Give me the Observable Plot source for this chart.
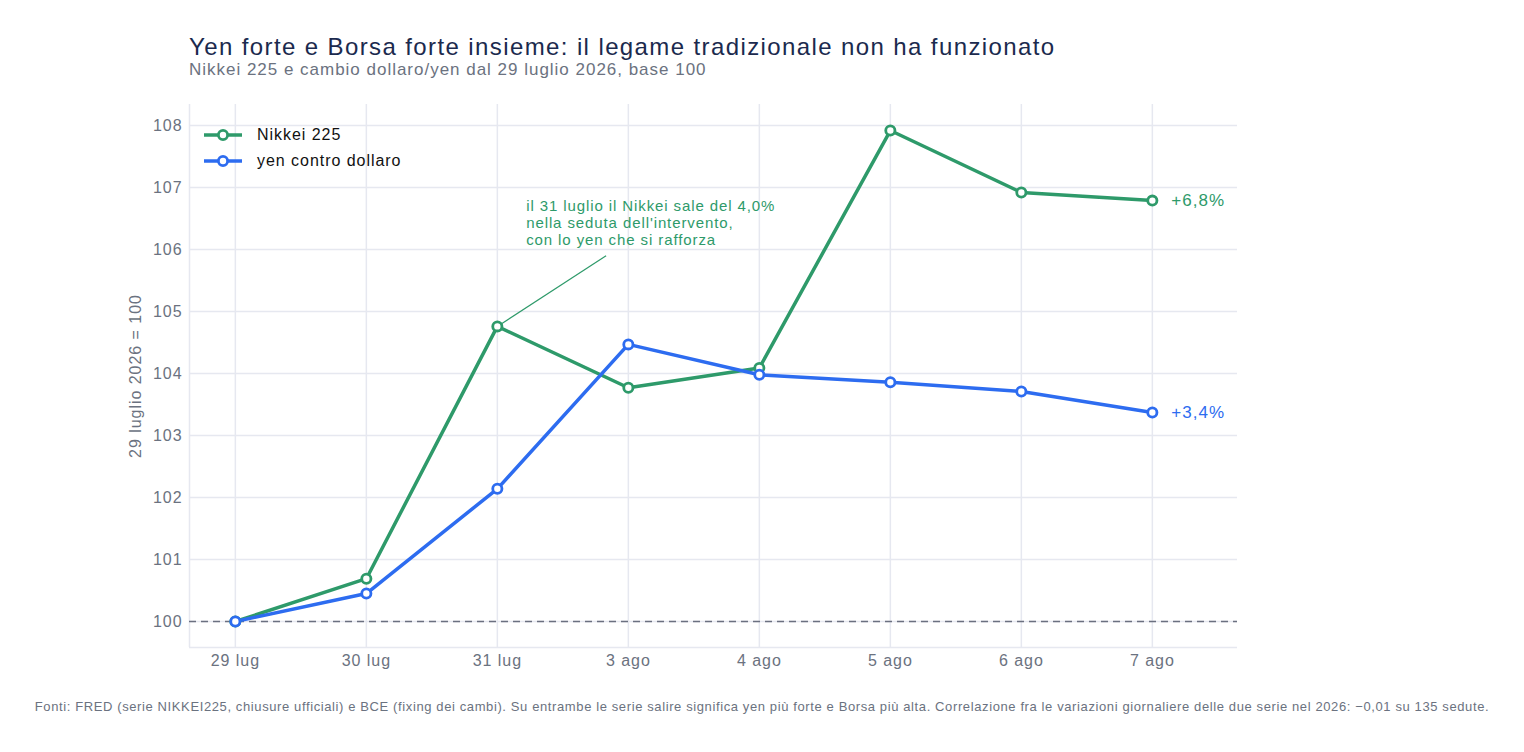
<!DOCTYPE html>
<html>
<head>
<meta charset="utf-8">
<script src="https://cdn.jsdelivr.net/npm/d3@7"></script>
<script src="https://cdn.jsdelivr.net/npm/@observablehq/plot@0.6"></script>
<style>
  html, body { margin: 0; padding: 0; background: #fff; }
  body { width: 1524px; height: 752px; font-family: "Liberation Sans", Arial, sans-serif; position: relative; overflow: hidden; letter-spacing: 0.06em; }
  #head { height: 90px; position: relative; }
  #title { position: absolute; left: 189px; top: 33px; font-size: 24px; color: #1b2a4e; white-space: nowrap; letter-spacing: 0.058em; }
  #subtitle { position: absolute; left: 189px; top: 60px; font-size: 17px; color: #6b7280; white-space: nowrap; letter-spacing: 0.058em; }
  #chart { position: relative; height: 600px; }
  #legend { position: absolute; left: 204px; top: 32px; font-size: 16px; color: #111; letter-spacing: 0.06em; }
  .li { display: flex; align-items: center; height: 26px; }
  .li svg { margin-right: 15px; }
  #foot { position: absolute; left: 0; width: 1524px; top: 699px; text-align: center; font-size: 13px; color: #6b7280; white-space: nowrap; letter-spacing: 0.047em; }
  #chart svg text { letter-spacing: 0.06em; }
</style>
</head>
<body>
<div id="head">
  <div id="title">Yen forte e Borsa forte insieme: il legame tradizionale non ha funzionato</div>
  <div id="subtitle">Nikkei 225 e cambio dollaro/yen dal 29 luglio 2026, base 100</div>
</div>
<div id="chart"></div>
<div id="foot">Fonti: FRED (serie NIKKEI225, chiusure ufficiali) e BCE (fixing dei cambi). Su entrambe le serie salire significa yen più forte e Borsa più alta. Correlazione fra le variazioni giornaliere delle due serie nel 2026: −0,01 su 135 sedute.</div>
<script>
const dates = ["29 lug", "30 lug", "31 lug", "3 ago", "4 ago", "5 ago", "6 ago", "7 ago"];
const nikkei = [100, 100.69, 104.76, 103.77, 104.09, 107.92, 106.92, 106.79];
const yen = [100, 100.45, 102.14, 104.47, 103.98, 103.86, 103.71, 103.37];
const seriesNames = ["Nikkei 225", "yen contro dollaro"];
const seriesColors = ["#2e9a6a", "#2d6cf0"];
const endLabels = ["+6,8%", "+3,4%"];
const yTicks = [100, 101, 102, 103, 104, 105, 106, 107, 108];
const annotationText = "il 31 luglio il Nikkei sale del 4,0%\nnella seduta dell'intervento,\ncon lo yen che si rafforza";

const rows = [];
dates.forEach((d, i) => {
  rows.push({i, date: d, value: nikkei[i], s: seriesNames[0]});
  rows.push({i, date: d, value: yen[i], s: seriesNames[1]});
});
const last = dates.length - 1;
const ends = [
  {i: last, value: nikkei[last], s: seriesNames[0], label: endLabels[0]},
  {i: last, value: yen[last], s: seriesNames[1], label: endLabels[1]}
];
const xDomain = [-0.35, 7.65];
const yDomain = [99.58, 108.34];
const grid = "#e6e8f0";
const font = "'Liberation Sans', Arial, sans-serif";

const plot = Plot.plot({
  width: 1524,
  height: 600,
  marginLeft: 189,
  marginRight: 287,
  marginTop: 14,
  marginBottom: 43,
  style: {fontFamily: font, fontSize: "16px", color: "#6b7280", background: "#fff"},
  x: {domain: xDomain, ticks: d3.range(dates.length), tickFormat: i => dates[i]},
  y: {domain: yDomain, ticks: yTicks, label: "29 luglio 2026 = 100"},
  color: {domain: seriesNames, range: seriesColors},
  marks: [
    Plot.gridX(d3.range(dates.length), {stroke: grid, strokeOpacity: 1, strokeWidth: 1.5}),
    Plot.gridY(yTicks, {stroke: grid, strokeOpacity: 1, strokeWidth: 1.5}),
    Plot.ruleX([xDomain[0]], {stroke: grid, strokeWidth: 1.5}),
    Plot.ruleY([yDomain[0]], {stroke: grid, strokeWidth: 1.5}),
    Plot.ruleY([100], {stroke: "#6b7080", strokeWidth: 1.5, strokeDasharray: "7,5"}),
    Plot.axisX({ticks: d3.range(dates.length), tickFormat: i => dates[i], tickSize: 0, tickPadding: 7, fontSize: 16, label: null}),
    Plot.axisY({ticks: yTicks, tickSize: 0, tickPadding: 7, fontSize: 16, label: "29 luglio 2026 = 100", labelAnchor: "center", labelArrow: "none", labelOffset: 60}),
    Plot.link([{x1: 2, y1: nikkei[2], x2: 2.83, y2: 105.9}], {x1: "x1", y1: "y1", x2: "x2", y2: "y2", stroke: seriesColors[0], strokeWidth: 1.2}),
    Plot.text([{x: 2.22, y: 106.82}], {x: "x", y: "y", text: () => annotationText, textAnchor: "start", lineAnchor: "top", fill: seriesColors[0], fontSize: 15, lineHeight: 1.13}),
    Plot.line(rows, {x: "i", y: "value", stroke: "s", z: "s", strokeWidth: 3.5}),
    Plot.dot(rows, {x: "i", y: "value", stroke: "s", fill: "white", r: 4.6, strokeWidth: 2.8}),
    Plot.text(ends, {x: "i", y: "value", text: "label", fill: "s", textAnchor: "start", dx: 19, fontSize: 17})
  ]
});
document.getElementById("chart").appendChild(plot);

const legend = document.createElement("div");
legend.id = "legend";
seriesNames.forEach((n, k) => {
  const row = document.createElement("div");
  row.className = "li";
  row.innerHTML = `<svg width="38" height="14"><line x1="0" y1="7" x2="38" y2="7" stroke="${seriesColors[k]}" stroke-width="3.5"/><circle cx="19" cy="7" r="4.6" fill="white" stroke="${seriesColors[k]}" stroke-width="2.8"/></svg><span>${n}</span>`;
  legend.appendChild(row);
});
document.getElementById("chart").appendChild(legend);
</script>
</body>
</html>
